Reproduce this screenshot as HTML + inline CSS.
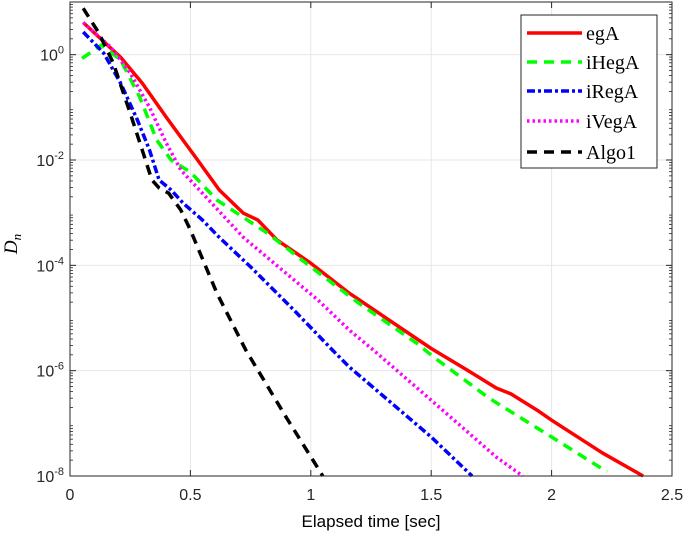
<!DOCTYPE html>
<html><head><meta charset="utf-8"><style>
body{margin:0;background:#fff}
svg{display:block;font-family:"Liberation Sans",sans-serif}
</style></head><body>
<svg id="chart" width="685" height="535" viewBox="0 0 685 535">
<g id="grid"></g>
<g id="series"></g>
<g id="axes"></g>
<text x="371" y="527" text-anchor="middle" font-size="17">Elapsed time [sec]</text>
<text transform="translate(17,244) rotate(-90)" text-anchor="middle" font-size="19" font-family="Liberation Serif,serif" font-style="italic">D<tspan font-size="13" dy="4">n</tspan></text>
<g id="legend"></g>
</svg>
<script>
const seriesNames=["egA","iHegA","iRegA","iVegA","Algo1"];
const egT=[.055,.21,.30,.40,.53,.62,.72,.78,.86,1.0,1.16,1.5,1.65,1.77,1.83,1.94,2.0,2.21,2.38];
const egV=[.61,-.05,-.54,-1.19,-2.0,-2.57,-3.01,-3.14,-3.52,-3.96,-4.53,-5.58,-5.99,-6.33,-6.44,-6.75,-6.94,-7.56,-8];
const ihT=[.05,.13,.21,.29,.36,.42,.5,.61,.72,.82,1.0,1.2,1.44,1.51,1.74,2.0,2.23];
const ihV=[-.07,.18,-.1,-.81,-1.62,-2.0,-2.23,-2.76,-3.09,-3.39,-4.03,-4.72,-5.48,-5.74,-6.52,-7.26,-7.92];
const irT=[.055,.14,.21,.28,.33,.37,.42,.47,.55,.62,.75,.93,1.09,1.16,1.5,1.67];
const irV=[.43,.03,-.54,-1.24,-1.81,-2.38,-2.57,-2.82,-3.14,-3.47,-4.03,-4.85,-5.61,-5.93,-7.26,-8];
const ivT=[.055,.17,.25,.33,.40,.46,.55,.72,1.03,1.16,1.26,1.5,1.77,1.88];
const ivV=[.61,.14,-.35,-1.0,-1.68,-2.19,-2.63,-3.47,-4.66,-5.23,-5.61,-6.56,-7.64,-8];
const alT=[.055,.12,.18,.25,.30,.34,.37,.41,.46,.5,.61,.73,.9,1.05];
const alV=[.88,.41,-.16,-1.11,-1.81,-2.38,-2.53,-2.63,-2.95,-3.33,-4.53,-5.61,-6.9,-8];
const xTicks=[0,0.5,1,1.5,2,2.5];
const xTickLabels=["0","0.5","1","1.5","2","2.5"];
const yTicks=[-8,-6,-4,-2,0];
const yTickLabels=["-8","-6","-4","-2","0"];

const X0=70,X1=672,Y0=476,Y1=2;
const xs=t=>X0+(X1-X0)*t/2.5;
const ys=l=>Y0-(Y0-Y1)*(l+8)/9;
const NS="http://www.w3.org/2000/svg";
function mk(tag,attrs,parent){const e=document.createElementNS(NS,tag);for(const k in attrs)e.setAttribute(k,attrs[k]);parent.appendChild(e);return e;}
const grid=document.getElementById('grid'),axes=document.getElementById('axes'),ser=document.getElementById('series'),leg=document.getElementById('legend');
xTicks.forEach((t,i)=>{
 const g=mk('line',{x1:xs(t),x2:xs(t),y1:Y1,y2:Y0,stroke:'#e6e6e6','stroke-width':1},grid);
 
 
 [[Y0,Y0-6],[Y1,Y1+6]].forEach(p=>mk('line',{x1:xs(t),x2:xs(t),y1:p[0],y2:p[1],stroke:'#262626'},axes));
 const tx=mk('text',{x:xs(t),y:Y0+24,'text-anchor':'middle','font-size':16,fill:'#262626'},axes);
 tx.textContent=xTickLabels[i];
 
 
});
for(let d=-8;d<=0;d++){
 if(yTicks.includes(d)){
  const g=mk('line',{x1:X0,x2:X1,y1:ys(d),y2:ys(d),stroke:'#e6e6e6'},grid);
  
  
  [[X0,X0+6],[X1,X1-6]].forEach(p=>mk('line',{x1:p[0],x2:p[1],y1:ys(d),y2:ys(d),stroke:'#262626'},axes));
 }
 for(let m=2;m<=9;m++){const y=ys(d+Math.log10(m));if(y<Y1)continue;
  [[X0,X0+3],[X1,X1-3]].forEach(p=>mk('line',{x1:p[0],x2:p[1],y1:y,y2:y,stroke:'#262626','stroke-width':0.8},axes));}
}
yTicks.forEach((d,i)=>{
 const tx=mk('text',{x:X0-6,y:ys(d)+6,'text-anchor':'end','font-size':16,fill:'#262626'},axes);
 tx.innerHTML='10<tspan font-size="11" dy="-7">'+yTickLabels[i]+'</tspan>';
 
 
});
mk('rect',{x:X0,y:Y1,width:X1-X0,height:Y0-Y1,fill:'none',stroke:'#262626'},axes);
const styles=[['#ff0000',''],['#00ff00','10,7'],['#0000ff','8,3,3,3'],['#ff00ff','2.5,3'],['#000000','10,7']];
const data=[[egT,egV],[ihT,ihV],[irT,irV],[ivT,ivV],[alT,alV]];
data.forEach((s,i)=>{
 const d=s[0].map((t,j)=>(j?'L':'M')+xs(t).toFixed(1)+','+ys(s[1][j]).toFixed(1)).join('');
 const p=mk('path',{d:d,fill:'none',stroke:styles[i][0],'stroke-width':3.5,'stroke-dasharray':styles[i][1],'stroke-linejoin':'round'},ser);
 
 
});
const lb=mk('rect',{x:521,y:15,width:136,height:153,fill:'#fff',stroke:'#262626'},leg);


const ly=[33,62,91,121,152];
seriesNames.forEach((n,i)=>{
 const l=mk('line',{x1:527,x2:582,y1:ly[i],y2:ly[i],stroke:styles[i][0],'stroke-width':3.5,'stroke-dasharray':styles[i][1]},leg);
 
 
 const t=mk('text',{x:586,y:ly[i]+7,'font-size':20,'font-family':'Liberation Serif,serif',fill:'#000'},leg);
 t.textContent=n;
 
 
});
</script>
</body></html>
